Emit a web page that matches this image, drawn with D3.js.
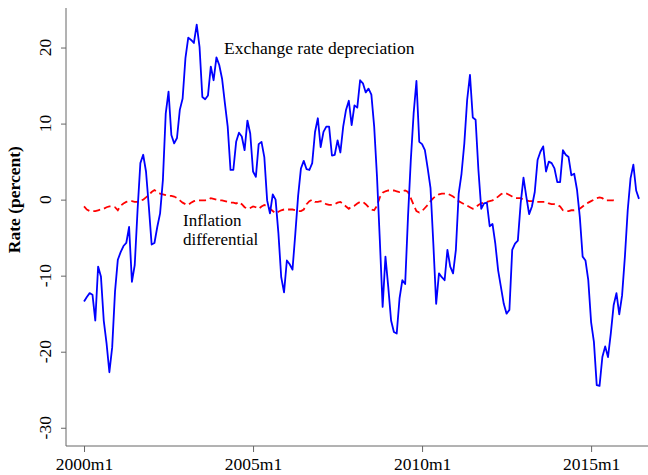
<!DOCTYPE html>
<html lang="en">
<head>
    <meta charset="UTF-8">
    <title>Exchange rate depreciation and inflation differential</title>
    <style>
        body { margin: 0; background: #fff; }
        #chart { width: 648px; height: 475px; }
        text { font-family: "Liberation Serif", "Times New Roman", serif; fill: #000; }
    </style>
</head>
<body>
<div id="chart"></div>
<script src="https://d3js.org/d3.v7.min.js"></script>
<script>
    // months counted from 2000m1 (0 = 2000m1)
    const startYear = 2000;
    const xTicks = [0, 60, 120, 180];
    const yTicks = [20, 10, 0, -10, -20, -30];

    // exchange rate depreciation, percent, 2000m1 .. 2016m6
    const depreciation = [
        -13.4, -12.8, -12.3, -12.5, -15.9, -8.8, -10.1, -15.9, -18.9, -22.7,
        -19.4, -12.1, -7.9, -6.9, -6.1, -5.7, -3.6, -10.8, -8.6, -1.4,
        4.8, 5.9, 3.7, -0.9, -5.9, -5.7, -3.6, -1.8, 2.6, 11.3,
        14.2, 8.5, 7.4, 8.1, 11.8, 13.3, 18.6, 21.3, 21.0, 20.6,
        23.0, 20.1, 13.5, 13.2, 13.7, 17.5, 15.7, 18.7, 17.7, 15.9,
        12.7, 9.6, 3.9, 3.9, 7.6, 8.8, 8.3, 6.5, 10.4, 8.7,
        3.7, 3.0, 7.3, 7.6, 5.6, -0.1, -1.8, 0.7, 0.0, -4.4,
        -10.2, -12.2, -8.0, -8.5, -9.2, -4.5, 0.5, 4.1, 5.1, 4.0,
        3.9, 4.8, 8.9, 10.7, 6.9, 8.9, 9.6, 9.6, 5.8, 5.9,
        7.8, 6.2, 9.6, 11.8, 13.0, 9.8, 12.4, 12.1, 15.7, 15.3,
        14.1, 14.6, 13.8, 9.6, 3.0, -5.3, -14.1, -7.5, -11.5, -15.9,
        -17.4, -17.6, -13.0, -10.6, -11.1, -2.3, 5.2, 11.3, 15.6, 7.6,
        7.3, 6.5, 4.1, 1.5, -5.8, -13.7, -9.7, -10.2, -10.6, -6.6,
        -8.8, -9.7, -6.6, 0.8, 3.4, 7.4, 13.1, 16.4, 10.8, 10.5,
        3.9, -1.2, -0.5, -0.4, -3.5, -3.2, -5.8, -9.3, -11.5, -13.7,
        -15.0, -14.5, -6.6, -5.8, -5.4, -0.5, 2.9, 0.4, -1.9, -0.9,
        1.0, 5.2, 6.3, 7.0, 3.7, 5.0, 4.8, 4.1, 2.3, 2.3,
        6.5, 5.9, 5.6, 3.2, 3.4, 1.3, -2.3, -7.5, -8.0, -10.6,
        -16.1, -18.7, -24.4, -24.5, -20.7, -19.3, -20.7, -17.6, -13.9, -12.3,
        -15.1, -12.6, -7.5, -1.4, 2.8, 4.6, 1.2, 0.1
    ];

    // inflation differential, percent, 2000m1 .. 2015m10
    const inflationDiff = [
        -0.9, -1.3, -1.5, -1.5, -1.5, -1.4, -1.3, -1.2, -1.0, -0.9,
        -0.9, -1.0, -1.4, -0.8, -0.5, -0.3, -0.2, -0.2, -0.3, -0.3,
        -0.1, 0.0, 0.3, 0.6, 1.0, 1.25, 1.0, 0.8, 0.7, 0.6,
        0.5, 0.5, 0.4, 0.2, -0.1, -0.4, -0.6, -0.7, -0.4, -0.2,
        -0.1, -0.1, -0.1, -0.1, 0.0, 0.2, 0.1, 0.0, -0.1, -0.1,
        -0.2, -0.3, -0.4, -0.4, -0.5, -0.3, -0.6, -1.0, -1.2, -1.1,
        -0.9, -1.0, -1.2, -0.9, -0.7, -0.9, -1.2, -1.5, -1.8, -1.6,
        -1.4, -1.3, -1.3, -1.3, -1.3, -1.4, -1.5, -1.5, -1.3, -0.6,
        -0.2, 0.0, -0.3, -0.3, -0.2, -0.4, -0.6, -0.7, -0.7, -0.6,
        -0.4, -0.3, -0.6, -0.9, -1.2, -0.9, -0.8, -0.5, -0.3, -0.3,
        -0.6, -1.0, -1.3, -1.4, -0.8, 0.3, 0.9, 1.1, 1.2, 1.2,
        1.2, 1.1, 1.0, 1.1, 1.2, 1.0, 0.2, -0.7, -1.5, -1.7,
        -1.5, -1.1, -0.7, -0.2, 0.2, 0.5, 0.7, 0.8, 0.8, 0.8,
        0.6, 0.4, 0.1, -0.2, -0.4, -0.6, -0.8, -1.0, -1.2, -1.0,
        -0.7, -0.5, -0.4, -0.3, -0.2, -0.1, 0.1, 0.4, 0.7, 0.9,
        0.8, 0.6, 0.4, 0.2, 0.2, 0.2, 0.0, -0.1, -0.2, -0.2,
        -0.3, -0.3, -0.3, -0.3, -0.3, -0.5, -0.6, -0.6, -0.7, -0.9,
        -1.4, -1.5, -1.5, -1.4, -1.4, -1.3, -1.2, -0.9, -0.6, -0.4,
        -0.2, 0.0, 0.2, 0.3, 0.2, -0.1, -0.1, -0.1, -0.1, -0.2
    ];

    const W = 648, H = 475;
    const svg = d3.select("#chart").append("svg")
        .attr("width", W)
        .attr("height", H);

    const plot = {left: 66, right: 648, top: 8, bottom: 446};

    const x = d3.scaleLinear().domain([-6.4, 200.2]).range([plot.left, plot.right]);
    const y = d3.scaleLinear().domain([-32.4, 25.2]).range([plot.bottom, plot.top]);

    const axisColor = "#666";

    // y axis
    const yAxis = svg.append("g")
        .attr("transform", "translate(" + plot.left + ",0)")
        .call(d3.axisLeft(y).tickValues(yTicks).tickSize(5).tickFormat(""));
    yAxis.select(".domain").attr("stroke", axisColor).attr("d", "M0," + plot.top + "V" + plot.bottom);
    yAxis.selectAll(".tick line").attr("stroke", axisColor);

    svg.append("g").selectAll("text")
        .data(yTicks)
        .enter().append("text")
        .attr("transform", d => "translate(51," + y(d) + ") rotate(-90)")
        .attr("text-anchor", "middle")
        .style("font-size", "17.5px")
        .text(d => d);

    // x axis
    const xAxis = svg.append("g")
        .attr("transform", "translate(0," + plot.bottom + ")")
        .call(d3.axisBottom(x).tickValues(xTicks).tickSize(6)
            .tickFormat(d => (startYear + d / 12) + "m1"));
    xAxis.select(".domain").attr("stroke", axisColor).attr("d", "M" + plot.left + ",0H" + plot.right);
    xAxis.selectAll(".tick line").attr("stroke", axisColor);
    xAxis.selectAll(".tick text")
        .attr("y", 24)
        .attr("dy", 0)
        .style("font-family", "'Liberation Serif', 'Times New Roman', serif")
        .style("font-size", "17.5px")
        .attr("fill", "#000");

    // axis title
    svg.append("text")
        .attr("transform", "translate(20," + y(0) + ") rotate(-90)")
        .attr("text-anchor", "middle")
        .style("font-size", "17.5px")
        .style("font-weight", "bold")
        .text("Rate (percent)");

    const line = d3.line()
        .x((d, i) => x(i))
        .y(d => y(d));

    svg.append("path")
        .datum(inflationDiff)
        .attr("fill", "none")
        .attr("stroke", "#ff0000")
        .attr("stroke-width", 1.8)
        .attr("stroke-dasharray", "7,4")
        .attr("d", line);

    svg.append("path")
        .datum(depreciation)
        .attr("fill", "none")
        .attr("stroke", "#0000ff")
        .attr("stroke-width", 1.8)
        .attr("stroke-linejoin", "round")
        .attr("d", line);

    // labels
    svg.append("text")
        .attr("x", 224)
        .attr("y", 54)
        .style("font-size", "17.5px")
        .text("Exchange rate depreciation");

    svg.append("text")
        .attr("x", 183)
        .attr("y", 226)
        .style("font-size", "17px")
        .text("Inflation");

    svg.append("text")
        .attr("x", 183)
        .attr("y", 245)
        .style("font-size", "17px")
        .text("differential");
</script>
</body>
</html>
